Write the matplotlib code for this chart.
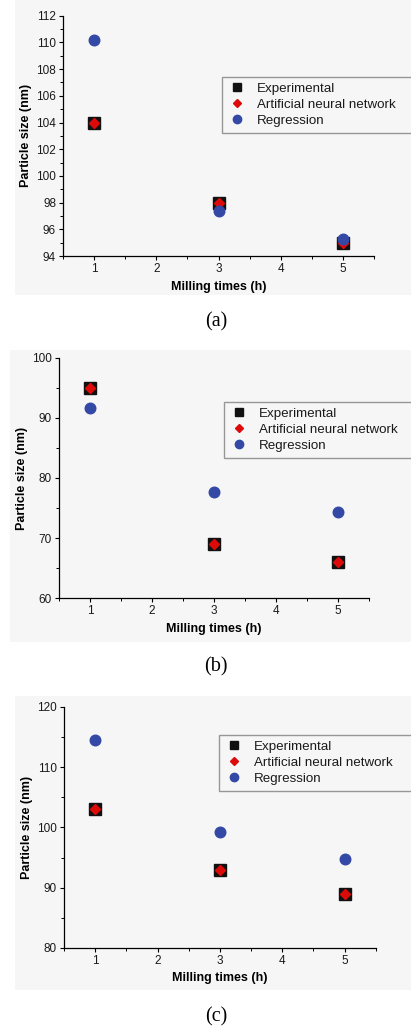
#!/usr/bin/env python3
"""
Particle size vs milling time: experimental, ANN and regression, three stacked panels (a)-(c).
Output: out.png (411x1027 px)
"""

import matplotlib
matplotlib.use("Agg")
import matplotlib.pyplot as plt
from matplotlib.lines import Line2D
from matplotlib.patches import Rectangle
from matplotlib.ticker import MultipleLocator

# DATA

milling_h = [1, 3, 5]

exp_a = [104, 98, 95]
ann_a = [104, 98, 95]
reg_a = [110.2, 97.4, 95.3]

exp_b = [95, 69, 66]
ann_b = [95, 69, 66]
reg_b = [91.6, 77.6, 74.3]

exp_c = [103, 93, 89]
ann_c = [103, 93, 89]
reg_c = [114.5, 99.3, 94.7]

series_labels = ["Experimental", "Artificial neural network", "Regression"]
captions = ["(a)", "(b)", "(c)"]

# LAYOUT (pixels)

W, H = 411, 1027
BG = "#f6f6f6"
SANS = ["Liberation Sans", "DejaVu Sans"]

PANELS = [
    # axes (l, t, r, b), background (l, t, r, b), ylim, major, minor, legend (l, t), caption y
    dict(ax=(63, 15.7, 374, 256), bg=(15, 0, 411, 295), ylim=(94, 112), major=2, minor=1,
         leg=(222, 79), cap_y=322, data=(exp_a, ann_a, reg_a)),
    dict(ax=(59, 357.7, 369, 598.3), bg=(10, 350, 411, 642), ylim=(60, 100), major=10, minor=5,
         leg=(224, 404), cap_y=667, data=(exp_b, ann_b, reg_b)),
    dict(ax=(64, 706.7, 375.7, 948), bg=(15, 696, 411, 990), ylim=(80, 120), major=10, minor=5,
         leg=(219, 737), cap_y=1017, data=(exp_c, ann_c, reg_c)),
]


def _frac(l, t, r, b):
    return [l / W, 1 - b / H, (r - l) / W, (b - t) / H]


def _panel(fig, p, caption):
    x0, y0, w, h = _frac(*p["bg"])
    fig.patches.append(Rectangle((x0, y0), w, h, transform=fig.transFigure,
                                 facecolor=BG, edgecolor="none", zorder=-5))

    ax = fig.add_axes(_frac(*p["ax"]))
    ax.set_facecolor("none")
    exp, ann, reg = p["data"]
    ax.plot(milling_h, exp, ls="none", marker="s", ms=8.6, color="#111111", zorder=3)
    ax.plot(milling_h, ann, ls="none", marker="D", ms=5.6, color="#dd0a0a", zorder=4)
    ax.plot(milling_h, reg, ls="none", marker="o", ms=7.6, color="#3449a6", zorder=5)

    ax.set_xlim(0.5, 5.5)
    ax.set_ylim(*p["ylim"])
    ax.xaxis.set_major_locator(MultipleLocator(1))
    ax.xaxis.set_minor_locator(MultipleLocator(0.5))
    ax.yaxis.set_major_locator(MultipleLocator(p["major"]))
    ax.yaxis.set_minor_locator(MultipleLocator(p["minor"]))
    for side in ("top", "right"):
        ax.spines[side].set_visible(False)
    for side in ("left", "bottom"):
        ax.spines[side].set_linewidth(0.9)
    ax.tick_params(which="major", direction="out", length=3, width=0.8,
                   labelsize=8.5, pad=2)
    ax.tick_params(which="minor", direction="out", length=2, width=0.7)
    for lab in ax.get_xticklabels() + ax.get_yticklabels():
        lab.set_family(SANS)
        lab.set_color("#1a1a1a")

    ax.set_xlabel("Milling times (h)", family=SANS, fontsize=9, fontweight="bold", labelpad=4)
    ax.set_ylabel("Particle size (nm)", family=SANS, fontsize=9, fontweight="bold", labelpad=3)

    # legend box runs off the right edge of the picture
    handles = [
        Line2D([], [], ls="none", marker="s", ms=6, color="#111111"),
        Line2D([], [], ls="none", marker="D", ms=4.5, color="#dd0a0a"),
        Line2D([], [], ls="none", marker="o", ms=6, color="#3449a6"),
    ]
    al, at, ar, ab = p["ax"]
    lx = (p["leg"][0] - al) / (ar - al)
    ly = (ab - p["leg"][1]) / (ab - at)
    lw = (W + 40 - p["leg"][0]) / (ar - al)
    leg = ax.legend(handles, series_labels, loc="upper left",
                    bbox_to_anchor=(lx, ly, lw, 0.01), mode="expand",
                    borderaxespad=0, fancybox=False, frameon=True,
                    prop={"family": SANS, "size": 9.6},
                    handlelength=1.3, handletextpad=0.9, labelspacing=0.27,
                    borderpad=0.45)
    leg.get_frame().set_edgecolor("#808080")
    leg.get_frame().set_linewidth(1.0)
    leg.get_frame().set_facecolor(BG)
    for t in leg.get_texts():
        t.set_color("#1a1a1a")

    fig.text(216 / W, 1 - p["cap_y"] / H, caption, ha="center", va="center",
             family=["Liberation Serif", "DejaVu Serif"], fontsize=14.5)


def main() -> None:
    fig = plt.figure(figsize=(W / 100, H / 100), dpi=100)
    for p, cap in zip(PANELS, captions):
        _panel(fig, p, cap)
    fig.savefig("out.png", dpi=100)
    plt.close(fig)


if __name__ == "__main__":
    main()
